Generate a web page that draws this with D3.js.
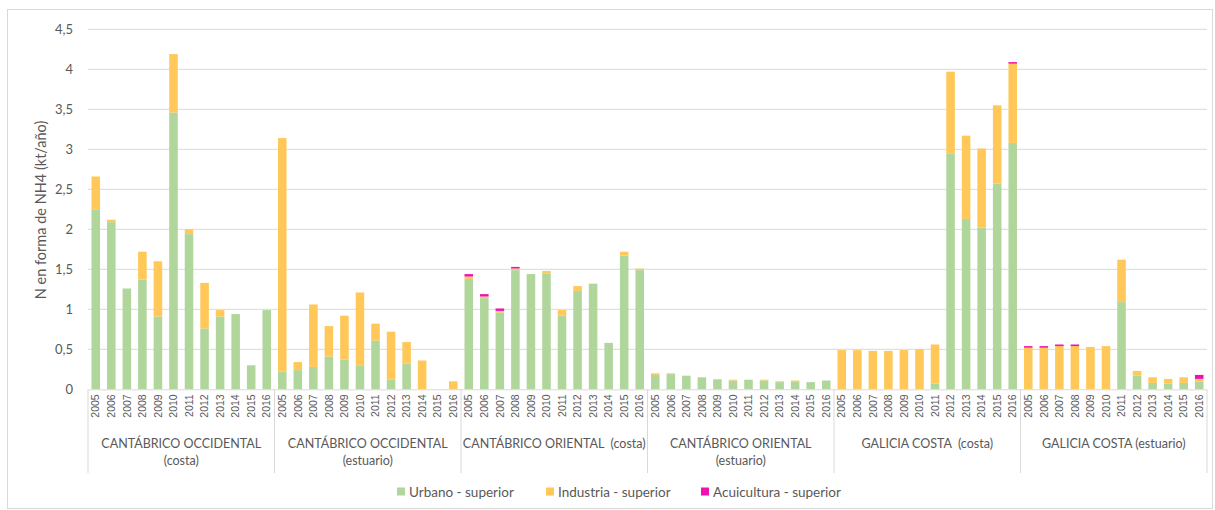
<!DOCTYPE html>
<html><head><meta charset="utf-8">
<script src="https://cdn.jsdelivr.net/npm/d3@7"></script>
<style>
html,body{margin:0;padding:0;background:#fff;}
svg{display:block;font-family:Lato,"Open Sans",sans-serif;}
text{white-space:pre;}
</style></head>
<body><svg id="c" width="1215" height="510"></svg>
<script>
const groups = [
  ["CANTÁBRICO OCCIDENTAL", "(costa)"],
  ["CANTÁBRICO OCCIDENTAL", "(estuario)"],
  ["CANTÁBRICO ORIENTAL  (costa)"],
  ["CANTÁBRICO ORIENTAL", "(estuario)"],
  ["GALICIA COSTA  (costa)"],
  ["GALICIA COSTA (estuario)"]
];
const years = ["2005","2006","2007","2008","2009","2010","2011","2012","2013","2014","2015","2016"];
const yTicks = [0,0.5,1,1.5,2,2.5,3,3.5,4,4.5];
const seriesNames = ["Urbano - superior","Industria - superior","Acuicultura - superior"];
const colors = ["#B0D69C","#FFC858","#F012B0"];

const urbano = [
  2.25,2.09,1.26,1.37,0.91,3.46,1.94,0.76,0.91,0.94,0.30,0.99,
  0.22,0.24,0.28,0.41,0.37,0.30,0.61,0.12,0.32,0,0,0,
  1.38,1.14,0.96,1.49,1.44,1.45,0.92,1.23,1.32,0.58,1.67,1.49,
  0.18,0.19,0.17,0.15,0.125,0.11,0.12,0.11,0.09,0.10,0.09,0.11,
  0,0,0,0,0,0,0.07,2.95,2.13,2.02,2.57,3.08,
  0,0,0,0,0,0,1.09,0.17,0.08,0.07,0.08,0.10
];
const industria = [
  0.41,0.03,0,0.35,0.69,0.73,0.06,0.57,0.08,0,0,0,
  2.92,0.10,0.78,0.38,0.55,0.91,0.21,0.60,0.27,0.36,0,0.10,
  0.03,0.02,0.02,0.02,0,0.03,0.07,0.06,0,0,0.05,0.02,
  0.02,0.01,0,0,0,0.01,0,0.01,0.01,0.01,0,0,
  0.49,0.49,0.48,0.48,0.49,0.50,0.49,1.02,1.04,0.99,0.98,0.99,
  0.52,0.52,0.54,0.54,0.53,0.54,0.53,0.06,0.07,0.06,0.07,0.03
];
const acuicultura = [
  0,0,0,0,0,0,0,0,0,0,0,0,
  0,0,0,0,0,0,0,0,0,0,0,0,
  0.03,0.03,0.03,0.02,0,0,0,0,0,0,0,0,
  0,0,0,0,0,0,0,0,0,0,0,0,
  0,0,0,0,0,0,0,0,0,0,0,0.02,
  0.02,0.02,0.02,0.02,0,0,0,0,0,0,0,0.05
];

const rows = [];
groups.forEach((g,gi)=>years.forEach((y,yi)=>{
  const i = gi*12+yi;
  rows.push({key:gi+"-"+y, g:gi, year:y, s0:urbano[i], s1:industria[i], s2:acuicultura[i]});
}));

const svg = d3.select("#c");
const L = 88, R = 1207, T = 29.3, B = 389.3;
svg.append("rect").attr("x",7.5).attr("y",9.5).attr("width",1205).attr("height",499)
  .attr("fill","#fff").attr("stroke","#D9D9D9");

const x = d3.scaleBand().domain(rows.map(d=>d.key)).range([L,R]).paddingInner(0.45).paddingOuter(0.225);
const y = d3.scaleLinear().domain([0,4.5]).range([B,T]);

// grid
svg.append("g").selectAll("line").data(yTicks.filter(t=>t>0)).join("line")
  .attr("x1",L).attr("x2",R).attr("y1",d=>y(d)).attr("y2",d=>y(d))
  .attr("stroke","#D9D9D9").attr("stroke-width",1);

// y axis labels
const fmt = d=> String(d).replace(".",",");
const yAxis = d3.axisLeft(y).tickValues(yTicks).tickFormat(fmt).tickSize(0).tickPadding(15);
const ya = svg.append("g").attr("transform",`translate(${L},0)`).call(yAxis);
ya.select(".domain").remove();
ya.selectAll("text").attr("fill","#595959").style("font-size","13px").style("font-family","Lato,sans-serif");

svg.append("text").attr("transform",`translate(41,210) rotate(-90)`)
  .attr("text-anchor","middle").attr("dy","0.35em").attr("fill","#595959").style("font-size","14.5px")
  .text("N en forma de NH4 (kt/año)");

// bars
const stack = d3.stack().keys(["s0","s1","s2"]);
const st = stack(rows);
svg.append("g").selectAll("g").data(st).join("g").attr("fill",(d,i)=>colors[i])
  .selectAll("rect").data(d=>d).join("rect")
  .attr("x",d=>x(d.data.key)).attr("width",x.bandwidth())
  .attr("y",d=>y(d[1])).attr("height",d=>Math.max(0,y(d[0])-y(d[1])));

// x axis
svg.append("line").attr("x1",L).attr("x2",R).attr("y1",B+0.5).attr("y2",B+0.5).attr("stroke","#D9D9D9");
const xAxis = d3.axisBottom(x).tickFormat(k=>k.split("-")[1]).tickSize(0).tickPadding(0);
const xa = svg.append("g").attr("transform",`translate(0,${B})`).call(xAxis);
xa.select(".domain").remove();
xa.selectAll("text").attr("fill","#595959").style("font-size","10.5px")
  .attr("transform","rotate(-90)").attr("text-anchor","end").attr("dy","0.35em")
  .attr("x",-5).attr("y",0);

// group separators and labels
const gw = (R-L)/groups.length;
svg.append("g").selectAll("line").data(d3.range(groups.length+1)).join("line")
  .attr("x1",i=>L+i*gw).attr("x2",i=>L+i*gw).attr("y1",B).attr("y2",473)
  .attr("stroke","#D9D9D9");
const gl = svg.append("g").selectAll("text").data(groups).join("text")
  .attr("x",(d,i)=>L+(i+0.5)*gw).attr("y",448).attr("text-anchor","middle")
  .attr("fill","#595959").style("font-size","12.5px");
gl.selectAll("tspan").data(d=>d).join("tspan")
  .attr("x",function(){return this.parentNode.getAttribute("x");})
  .attr("dy",(d,i)=>i===0?0:"1.35em").text(d=>d);

// legend
const legX = [397, 546, 701];
const lg = svg.append("g").selectAll("g").data(seriesNames).join("g")
  .attr("transform",(d,i)=>`translate(${legX[i]},492)`);
lg.append("rect").attr("x",0).attr("y",-4.5).attr("width",8).attr("height",8).attr("fill",(d,i)=>colors[i]);
lg.append("text").attr("x",12).attr("y",4.5).attr("fill","#595959").style("font-size","13.5px").text(d=>d);
</script></body></html>
